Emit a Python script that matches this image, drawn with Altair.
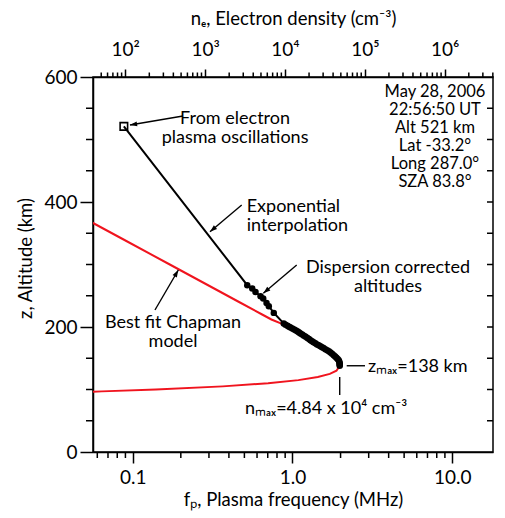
import math
import altair as alt
import pandas as pd

FONT = "Lato"
RED = "#f0141e"

# Plot area (px) and data ranges
W, H = 400, 375
F_MIN, F_MAX = 0.0564, 18.0      # plasma frequency, MHz
Z_MIN, Z_MAX = 0, 600            # altitude, km
FP_PER_ROOT_NE = 8.98e-3         # f_p [MHz] = 8.98e-3 * sqrt(n_e [cm^-3])

# Peak of the profile
Z_PEAK = 138
N_PEAK = 4.84e4
F_PEAK = FP_PER_ROOT_NE * math.sqrt(N_PEAK)

# In-situ point from electron plasma oscillations
sat_f = [0.088]
sat_z = [521]

# Dispersion-corrected altitudes (the peak is appended below)
dot_f = [0.521, 0.560, 0.587, 0.631, 0.656, 0.688, 0.711, 0.764,
         0.882, 0.905, 0.930, 0.952, 0.972, 0.998, 1.025, 1.052, 1.078, 1.100,
         1.122, 1.150, 1.180, 1.210, 1.240, 1.268, 1.296, 1.325, 1.355, 1.390,
         1.425, 1.460, 1.496, 1.530, 1.565, 1.605, 1.648, 1.690, 1.730, 1.770,
         1.812, 1.850, 1.885, 1.918, 1.947, 1.962, 1.972, 1.976, 1.976]
dot_z = [266.9, 261.6, 256.1, 249.3, 245.6, 238.6, 233.3, 222.6,
         205.7, 203.8, 202.0, 200.5, 199.3, 197.6, 196.0, 194.4, 192.8, 191.2,
         189.7, 188.0, 186.2, 184.4, 182.6, 180.8, 179.0, 177.3, 175.6, 173.9,
         172.2, 170.8, 169.4, 167.8, 166.3, 164.6, 163.0, 161.2, 159.3, 157.2,
         155.0, 153.0, 151.0, 149.0, 147.0, 145.0, 143.0, 141.0, 139.5]

# Best-fit Chapman profile: topside, then bottomside (the peak sits between)
chap_top_f = [0.0531, 0.0876, 0.1706, 0.332, 0.463, 0.646, 0.738, 0.86,
              0.95, 1.10, 1.27, 1.47, 1.67, 1.86, 1.935]
chap_top_z = [370, 340, 300, 260, 240, 220, 212, 205,
              199, 190, 180, 170, 160, 150, 145]
chap_bot_f = [1.885, 1.713, 1.441, 1.089, 0.704, 0.366, 0.1397, 0.064, 0.0474]
chap_bot_z = [130, 125, 120, 115, 110, 105, 100, 97, 96]

# Axis ticks (major ones carry labels)
freq_major = [0.1, 1, 10]
freq_minor = [0.06, 0.07, 0.08, 0.09, 0.2, 0.3, 0.4, 0.5, 0.6, 0.7, 0.8, 0.9,
              2, 3, 4, 5, 6, 7, 8, 9]
dens_major = [1e2, 1e3, 1e4, 1e5, 1e6]
dens_minor = [50, 60, 70, 80, 90,
              200, 300, 400, 500, 600, 700, 800, 900,
              2e3, 3e3, 4e3, 5e3, 6e3, 7e3, 8e3, 9e3,
              2e4, 3e4, 4e4, 5e4, 6e4, 7e4, 8e4, 9e4,
              2e5, 3e5, 4e5, 5e5, 6e5, 7e5, 8e5, 9e5,
              2e6, 3e6, 4e6]
alt_major = [0, 200, 400, 600]
alt_minor = [50, 100, 150, 250, 300, 350, 450, 500, 550]
alt_inner = [50, 100, 150, 200, 250, 300, 350, 400, 450, 500, 550]

# Annotations (anchor in data units: f in MHz, z in km)
notes = [
    # text, f, z, align
    ("From electron\nplasma oscillations", 0.437, 524.8, "center"),
    ("Exponential\ninterpolation", 0.517, 384.0, "left"),
    ("Dispersion corrected\naltitudes", 3.963, 286.4, "center"),
    ("Best fit Chapman\nmodel", 0.1787, 199.2, "center"),
    ("zₘₐₓ=138 km", 2.971, 128.5, "left"),
    ("nₘₐₓ=4.84 x 10⁴ cm⁻³", 0.5045, 60.8, "left"),
]
info_lines = ["May 28, 2006", "22:56:50 UT", "Alt  521 km",
              "Lat  -33.2°", "Long  287.0°", "SZA  83.8°"]
info_f, info_z = 7.80, 568.5

# Arrows: (start f, start z, tip f, tip z)
arrows = [
    (0.2064, 537.6, 0.0961, 523.2),
    (0.481, 395.2, 0.3046, 352.5),
    (1.063, 299.2, 0.657, 253.9),
    (0.1378, 227.2, 0.1929, 291.2),
]
# Plain leader lines: (f1, z1, f2, z2)
leaders = [
    (2.185, Z_PEAK, 2.844, Z_PEAK),
    (F_PEAK, 120, F_PEAK, 91.2),
]


def to_px(f, z):
    lo, hi = math.log10(F_MIN), math.log10(F_MAX)
    x = W * (math.log10(f) - lo) / (hi - lo)
    y = H * (1 - (z - Z_MIN) / (Z_MAX - Z_MIN))
    return x, y


def dens_to_f(n):
    return FP_PER_ROOT_NE * math.sqrt(n)


# ---- tables -------------------------------------------------------------
dots = pd.DataFrame({"f": dot_f + [F_PEAK], "z": dot_z + [Z_PEAK]})
profile = pd.DataFrame({"f": sat_f + dot_f + [F_PEAK],
                        "z": sat_z + dot_z + [Z_PEAK]})
profile["i"] = range(len(profile))
chap = pd.DataFrame({"f": chap_top_f + [F_PEAK] + chap_bot_f,
                     "z": chap_top_z + [Z_PEAK] + chap_bot_z})
chap["i"] = range(len(chap))
sat = pd.DataFrame({"f": sat_f, "z": sat_z})

seg_rows, head_rows = [], []
for k, (f0, z0, f1, z1) in enumerate(arrows):
    seg_rows += [{"f": f0, "z": z0, "id": k, "i": 0}, {"f": f1, "z": z1, "id": k, "i": 1}]
    x0, y0 = to_px(f0, z0)
    x1, y1 = to_px(f1, z1)
    ang = math.degrees(math.atan2(x1 - x0, -(y1 - y0))) % 360
    head_rows.append({"f": f1, "z": z1, "ang": ang})
for k, (f0, z0, f1, z1) in enumerate(leaders):
    seg_rows += [{"f": f0, "z": z0, "id": 100 + k, "i": 0},
                 {"f": f1, "z": z1, "id": 100 + k, "i": 1}]
segs = pd.DataFrame(seg_rows)
heads = pd.DataFrame(head_rows)

# ---- scales & axes ------------------------------------------------------
xscale = alt.Scale(type="log", domain=[F_MIN, F_MAX], nice=False)
yscale = alt.Scale(domain=[Z_MIN, Z_MAX], nice=False)

SUP = "['⁰','¹','²','³','⁴','⁵','⁶','⁷']"
K_DENS = f"(2*log(datum.value/{FP_PER_ROOT_NE})/LN10)"

ax_bottom = alt.Axis(
    orient="bottom", values=freq_major, format=".1f", tickCount=len(freq_major),
    tickSize=11, labelPadding=20, labelBaseline="alphabetic",
    title="fₚ, Plasma frequency (MHz)", titleX=W / 2, titleY=53,
    titleAlign="center", titleBaseline="alphabetic", grid=False)

ax_top = alt.Axis(
    orient="top", values=[dens_to_f(n) for n in dens_major], tickCount=len(dens_major),
    labelExpr=f"'10' + {SUP}[round({K_DENS})]",
    tickSize=8, labelPadding=14, labelBaseline="alphabetic",
    title="nₑ, Electron density (cm⁻³)", titleX=W / 2, titleY=-53,
    titleAlign="center", titleBaseline="alphabetic", grid=False)

ax_left = alt.Axis(
    orient="left", values=alt_major, tickCount=len(alt_major),
    tickSize=13, labelPadding=3,
    title="z, Altitude (km)", titleX=-68, titleY=181, titleAngle=270,
    titleAlign="center", titleBaseline="middle", grid=False)


def X(axis=None):
    return alt.X("f:Q", scale=xscale, axis=axis)


def Y(axis=None):
    return alt.Y("z:Q", scale=yscale, axis=axis)


# Minor ticks, placed through the shared scales
tick_style = dict(color="black", strokeWidth=1.5)
bottom_minor = alt.Chart(pd.DataFrame({"f": freq_minor})).mark_rule(**tick_style).encode(
    x=X(), y=alt.value(H), y2=alt.value(H + 6))
top_minor = alt.Chart(pd.DataFrame({"f": [dens_to_f(n) for n in dens_minor]})).mark_rule(
    **tick_style).encode(x=X(), y=alt.value(0), y2=alt.value(-4.5))
left_minor = alt.Chart(pd.DataFrame({"z": alt_minor})).mark_rule(**tick_style).encode(
    y=Y(), x=alt.value(0), x2=alt.value(-7))
right_inner = alt.Chart(pd.DataFrame({"z": alt_inner})).mark_rule(**tick_style).encode(
    y=Y(), x=alt.value(W), x2=alt.value(W - 6))

chapman_line = alt.Chart(chap).mark_line(color=RED, strokeWidth=2, clip=True).encode(
    x=X(ax_bottom), y=Y(ax_left), order="i:Q")

profile_line = alt.Chart(profile).mark_line(color="black", strokeWidth=2, clip=True).encode(
    x=X(), y=Y(), order="i:Q")

dot_layer = alt.Chart(dots).mark_circle(color="black", size=42, opacity=1).encode(
    x=X(ax_top), y=Y())

sat_layer = alt.Chart(sat).mark_point(shape="square", filled=False, color="black",
                                      size=56, strokeWidth=1.6, opacity=1).encode(
    x=X(), y=Y())

seg_layer = alt.Chart(segs).mark_line(color="black", strokeWidth=1.4).encode(
    x=X(), y=Y(), detail="id:N", order="i:Q")

head_layer = alt.Chart(heads).mark_point(
    shape="M0,0L-0.55,1.6L0.55,1.6Z", filled=True, color="black", size=80, opacity=1
).encode(x=X(), y=Y(), angle=alt.Angle("ang:Q", scale=None))

note_layers = []
for text, f, z, align in notes:
    df = pd.DataFrame({"f": [f], "z": [z], "t": [text]})
    note_layers.append(
        alt.Chart(df).mark_text(align=align, baseline="alphabetic", lineBreak="\n",
                                fontSize=18, lineHeight=19, font=FONT, color="black")
        .encode(x=X(), y=Y(), text="t:N"))

info = pd.DataFrame({"f": [info_f], "z": [info_z], "t": ["\n".join(info_lines)]})
info_layer = alt.Chart(info).mark_text(align="center", baseline="alphabetic", lineBreak="\n",
                                       fontSize=16.5, lineHeight=18, font=FONT,
                                       color="black").encode(x=X(), y=Y(), text="t:N")

chart = alt.layer(
    bottom_minor, top_minor, left_minor, right_inner,
    chapman_line, profile_line, dot_layer, sat_layer, seg_layer, head_layer,
    *note_layers, info_layer
).resolve_axis(x="independent", y="independent").properties(
    width=W, height=H,
    autosize=alt.AutoSizeParams(type="none"),
    padding={"left": 93, "top": 77, "right": 12, "bottom": 66},
).configure_view(stroke="black", strokeWidth=1.5).configure_axis(
    labelFont=FONT, titleFont=FONT, labelFontSize=19, titleFontSize=18.5,
    titleFontWeight="normal", labelColor="black", titleColor="black",
    domainColor="black", tickColor="black", domainWidth=1.5, tickWidth=1.5,
    labelFlush=False, labelOverlap=False,
)

chart.save("out.html", embed_options={"renderer": "svg", "actions": False})
